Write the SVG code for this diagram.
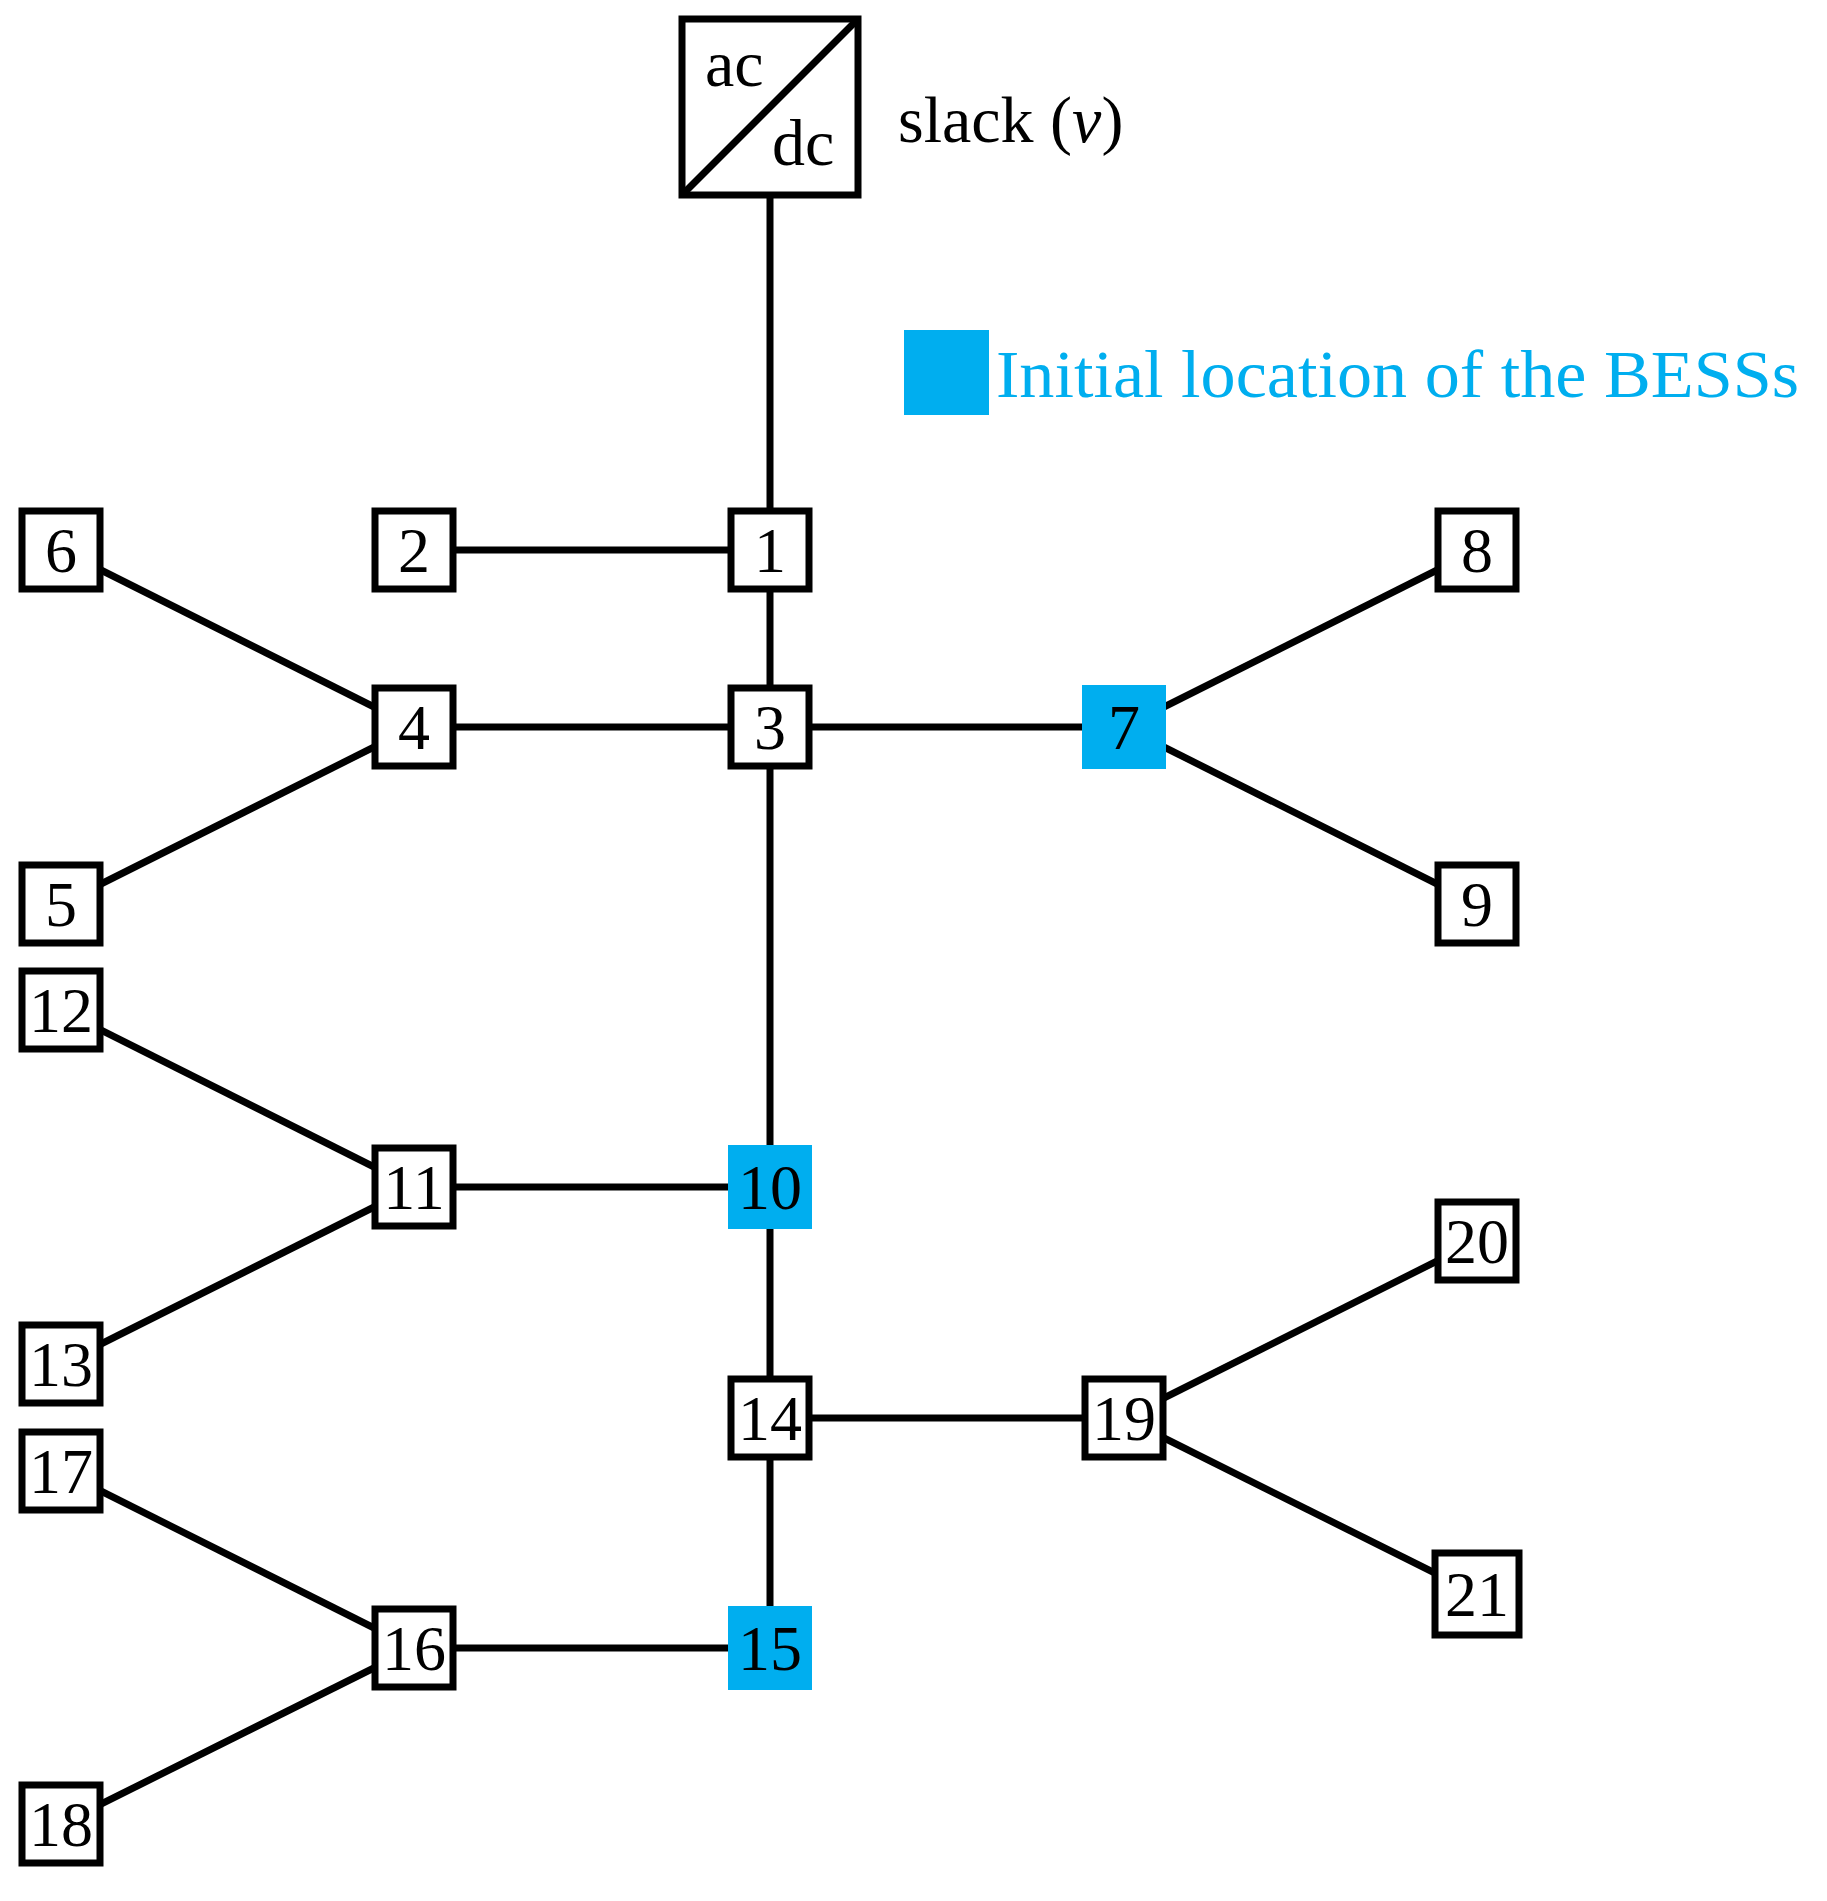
<svg xmlns="http://www.w3.org/2000/svg" width="1827" height="1901" viewBox="0 0 1827 1901">
<style>
.e{stroke:#000;stroke-width:7;fill:none}
.n{fill:#fff;stroke:#000;stroke-width:7}
.b{fill:#00AEEF}
.t{font-family:"Liberation Serif",serif;font-size:64px;text-anchor:middle;fill:#000}
.l{font-family:"Liberation Serif",serif;font-size:66px;fill:#000}
</style>
<rect width="1827" height="1901" fill="#fff"/>
<g id="connectors">
<line class="e" x1="770" y1="195" x2="770" y2="1648"/>
<line class="e" x1="414" y1="550" x2="770" y2="550"/>
<line class="e" x1="414" y1="727" x2="1124" y2="727"/>
<line class="e" x1="61" y1="550" x2="414" y2="727"/>
<line class="e" x1="61" y1="904" x2="414" y2="727"/>
<line class="e" x1="1477" y1="550" x2="1124" y2="727"/>
<line class="e" x1="1477" y1="904" x2="1124" y2="727"/>
<line class="e" x1="414" y1="1187" x2="770" y2="1187"/>
<line class="e" x1="61" y1="1010" x2="414" y2="1187"/>
<line class="e" x1="61" y1="1364" x2="414" y2="1187"/>
<line class="e" x1="770" y1="1418" x2="1124" y2="1418"/>
<line class="e" x1="1477" y1="1241" x2="1124" y2="1418"/>
<line class="e" x1="1477" y1="1594" x2="1124" y2="1418"/>
<line class="e" x1="414" y1="1648" x2="770" y2="1648"/>
<line class="e" x1="61" y1="1471" x2="414" y2="1648"/>
<line class="e" x1="61" y1="1824" x2="414" y2="1648"/>
</g>
<g id="slack">
<rect class="n" x="682" y="19" width="176" height="176"/>
<line class="e" x1="682" y1="195" x2="858" y2="19"/>
<text class="l" x="705" y="86">ac</text>
<text class="l" x="772" y="165">dc</text>
<text class="l" x="898" y="142">slack (<tspan font-style="italic">v</tspan>)</text>
</g>
<g id="legend">
<rect class="b" x="904" y="330" width="85" height="85"/>
<text x="996" y="397" font-family="Liberation Serif,serif" font-size="68" fill="#00AEEF" textLength="803" lengthAdjust="spacingAndGlyphs">Initial location of the BESSs</text>
</g>
<g id="n1"><rect class="n" x="731" y="511" width="78" height="78"/><text class="t" x="770" y="572">1</text></g>
<g id="n2"><rect class="n" x="375" y="511" width="78" height="78"/><text class="t" x="414" y="572">2</text></g>
<g id="n3"><rect class="n" x="731" y="688" width="78" height="78"/><text class="t" x="770" y="749">3</text></g>
<g id="n4"><rect class="n" x="375" y="688" width="78" height="78"/><text class="t" x="414" y="749">4</text></g>
<g id="n5"><rect class="n" x="22" y="865" width="78" height="78"/><text class="t" x="61" y="926">5</text></g>
<g id="n6"><rect class="n" x="22" y="511" width="78" height="78"/><text class="t" x="61" y="572">6</text></g>
<g id="n7"><rect class="b" x="1082" y="685" width="84" height="84"/><text class="t" x="1124" y="749">7</text></g>
<g id="n8"><rect class="n" x="1438" y="511" width="78" height="78"/><text class="t" x="1477" y="572">8</text></g>
<g id="n9"><rect class="n" x="1438" y="865" width="78" height="78"/><text class="t" x="1477" y="926">9</text></g>
<g id="n10"><rect class="b" x="728" y="1145" width="84" height="84"/><text class="t" x="770" y="1209">10</text></g>
<g id="n11"><rect class="n" x="375" y="1148" width="78" height="78"/><text class="t" x="414" y="1209">11</text></g>
<g id="n12"><rect class="n" x="22" y="971" width="78" height="78"/><text class="t" x="61" y="1032">12</text></g>
<g id="n13"><rect class="n" x="22" y="1325" width="78" height="78"/><text class="t" x="61" y="1386">13</text></g>
<g id="n14"><rect class="n" x="731" y="1379" width="78" height="78"/><text class="t" x="770" y="1440">14</text></g>
<g id="n15"><rect class="b" x="728" y="1606" width="84" height="84"/><text class="t" x="770" y="1670">15</text></g>
<g id="n16"><rect class="n" x="375" y="1609" width="78" height="78"/><text class="t" x="414" y="1670">16</text></g>
<g id="n17"><rect class="n" x="22" y="1432" width="78" height="78"/><text class="t" x="61" y="1493">17</text></g>
<g id="n18"><rect class="n" x="22" y="1785" width="78" height="78"/><text class="t" x="61" y="1846">18</text></g>
<g id="n19"><rect class="n" x="1085" y="1379" width="78" height="78"/><text class="t" x="1124" y="1440">19</text></g>
<g id="n20"><rect class="n" x="1438" y="1202" width="78" height="78"/><text class="t" x="1477" y="1263">20</text></g>
<g id="n21"><rect class="n" x="1435" y="1553" width="84" height="82"/><text class="t" x="1477" y="1616">21</text></g>
</svg>
